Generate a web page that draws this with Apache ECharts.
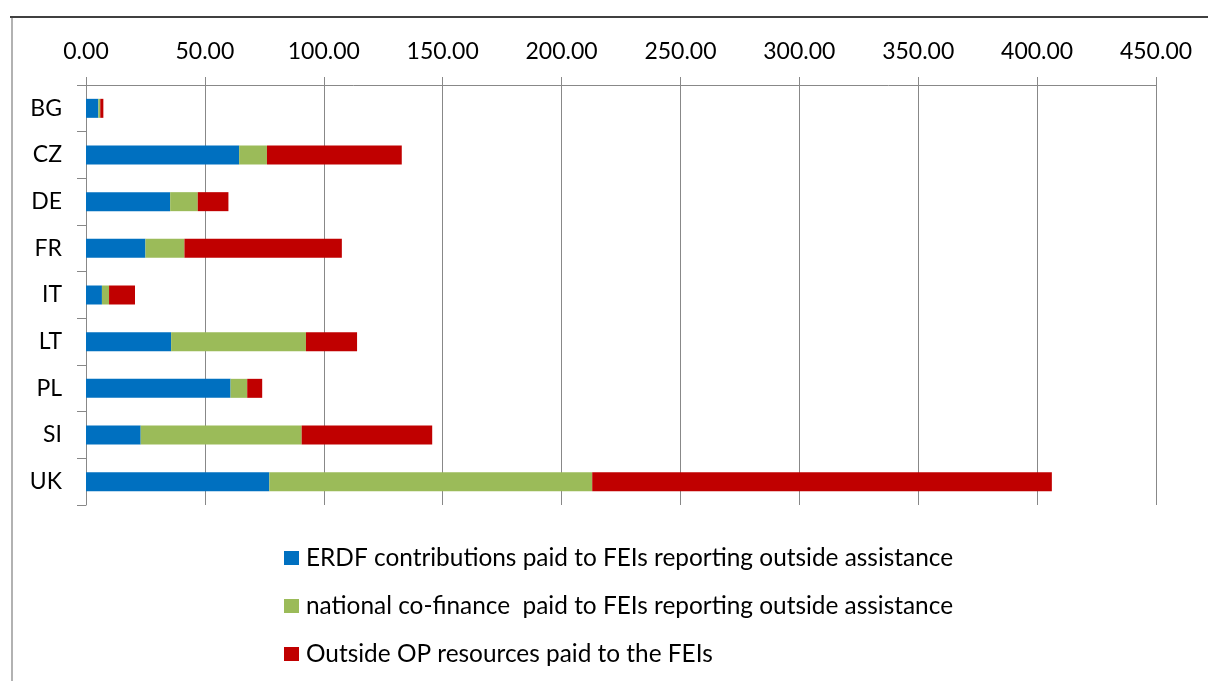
<!DOCTYPE html>
<html>
<head>
<meta charset="utf-8">
<script src="https://cdn.jsdelivr.net/npm/echarts@6/dist/echarts.min.js"></script>
<style>
  html, body { margin: 0; padding: 0; background: #fff; }
  #chart { width: 1208px; height: 681px; }
</style>
</head>
<body>
<div id="chart"></div>
<script>
// Countries (top to bottom)
const countries = ['BG', 'CZ', 'DE', 'FR', 'IT', 'LT', 'PL', 'SI', 'UK'];

// Values
const erdf = [5.2, 64.4, 35.4, 25.0, 6.7, 35.8, 60.8, 23.0, 77.1];
const nationalCofinance = [0.8, 11.7, 11.6, 16.4, 3.0, 56.7, 7.0, 67.7, 135.8];
const outsideOP = [1.3, 56.7, 12.9, 66.2, 10.9, 21.5, 6.3, 54.9, 193.3];

const seriesNames = [
    'ERDF contributions paid to FEIs reporting outside assistance',
    'national co-finance  paid to FEIs reporting outside assistance',
    'Outside OP resources paid to the FEIs'
];
const colors = ['#0070C0', '#9BBB59', '#C00000'];

const chart = echarts.init(document.getElementById('chart'));
const fontFamily = 'Lato, "Open Sans", sans-serif';

// stacked bar helper
const makeSeries = (name, data, color) => ({
    name: name,
    type: 'bar',
    stack: 'total',
    data: data,
    barWidth: 19,
    itemStyle: { color: color },
    emphasis: { disabled: true }
});

chart.setOption({
    animation: false,
    color: colors,
    grid: { left: 86, right: 52, top: 85, bottom: 176 },
    xAxis: {
        type: 'value',
        position: 'top',
        min: 0,
        max: 450,
        interval: 50,
        axisLine: { show: true, lineStyle: { color: '#888', width: 1 } },
        axisTick: { show: true, length: 8, lineStyle: { color: '#888' } },
        splitLine: { show: true, lineStyle: { color: '#888', width: 1 } },
        axisLabel: {
            margin: 22,
            color: '#000',
            fontSize: 23,
            fontFamily: fontFamily,
            formatter: v => v.toFixed(2)
        }
    },
    yAxis: {
        type: 'category',
        inverse: true,
        data: countries,
        axisLine: { show: true, lineStyle: { color: '#888', width: 1 } },
        axisTick: { show: true, length: 9, lineStyle: { color: '#888' } },
        axisLabel: {
            margin: 24,
            color: '#000',
            fontSize: 23,
            fontFamily: fontFamily
        }
    },
    legend: {
        orient: 'vertical',
        left: 279,
        top: 541,
        itemWidth: 15,
        itemHeight: 14,
        itemGap: 24,
        icon: 'rect',
        textStyle: { color: '#000', fontSize: 24.4, fontFamily: fontFamily, padding: [0, 0, 0, 2] },
        data: seriesNames
    },
    graphic: [
        { type: 'line', shape: { x1: 10, y1: 17, x2: 1208, y2: 17 }, style: { stroke: '#000', lineWidth: 1.5 } },
        { type: 'line', shape: { x1: 12, y1: 18, x2: 12, y2: 681 }, style: { stroke: '#999', lineWidth: 1.5 } }
    ],
    series: [
        makeSeries(seriesNames[0], erdf, colors[0]),
        makeSeries(seriesNames[1], nationalCofinance, colors[1]),
        makeSeries(seriesNames[2], outsideOP, colors[2])
    ]
});
</script>
</body>
</html>
